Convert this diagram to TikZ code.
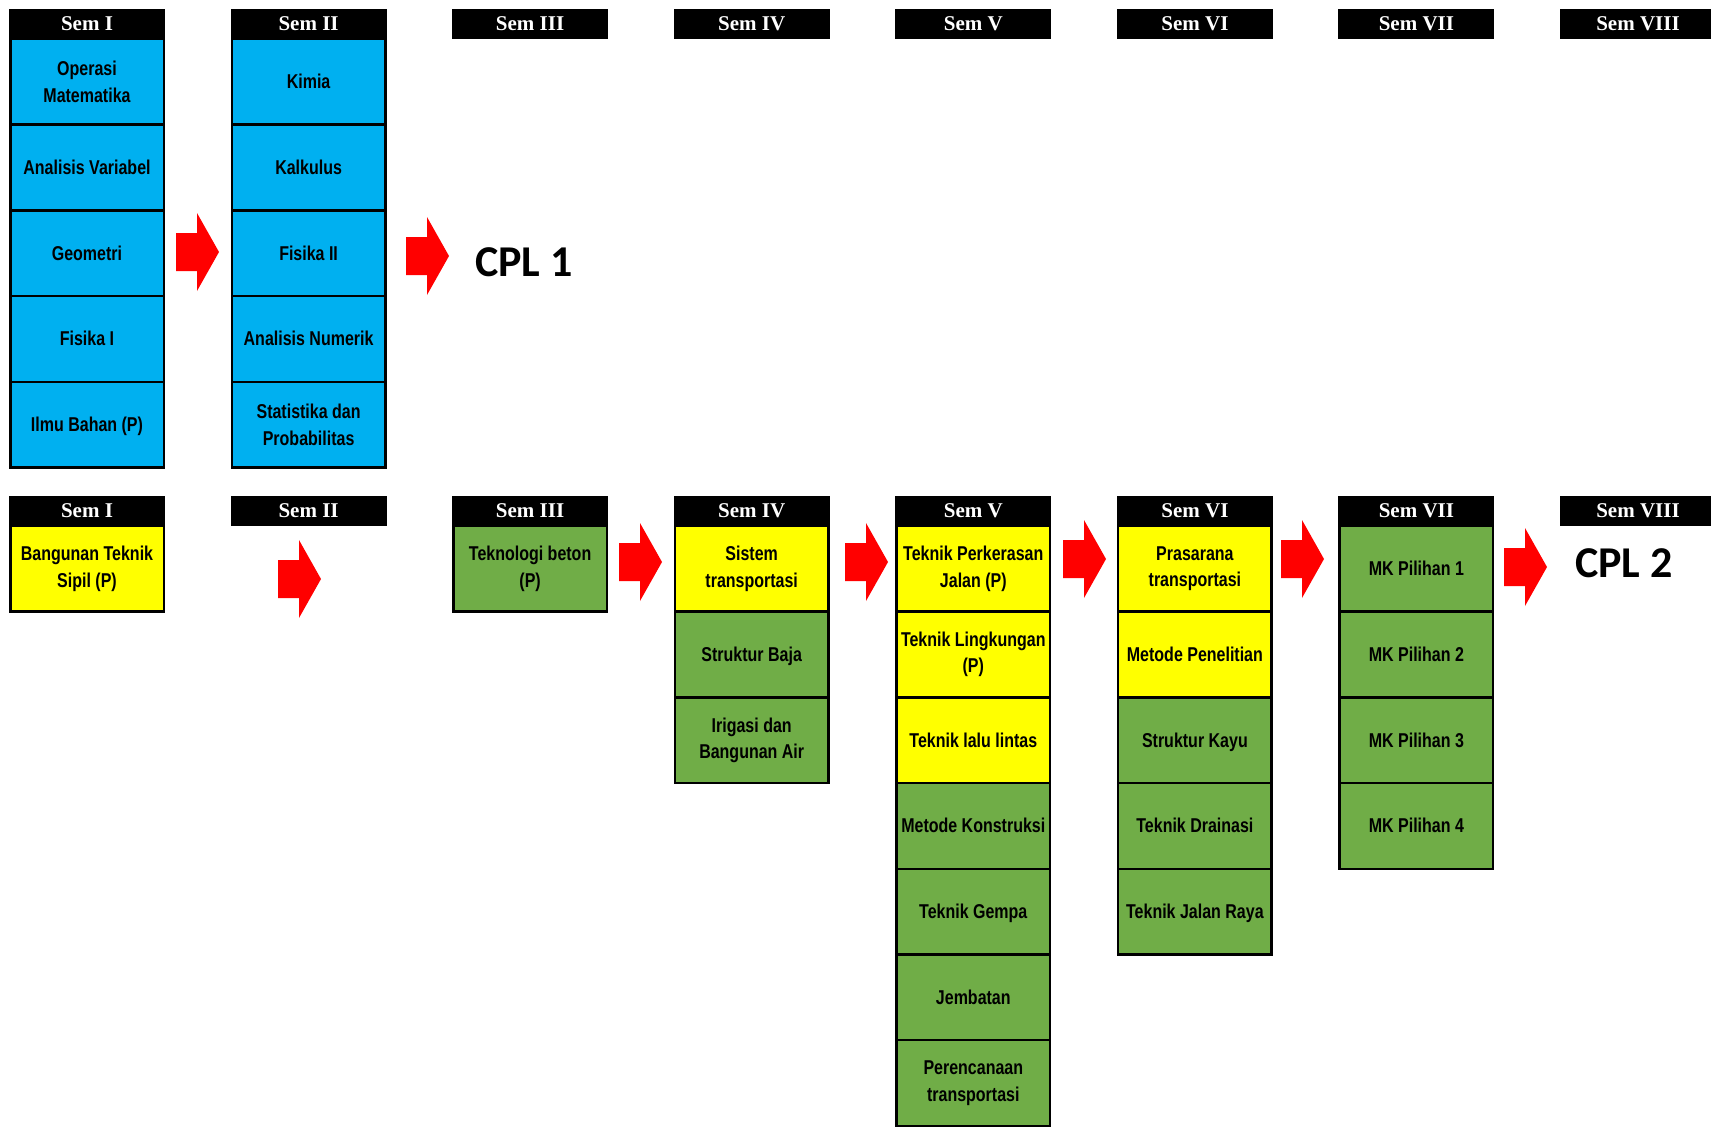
\documentclass[tikz,border=0pt]{standalone}
\usepackage{fontspec}
\newfontfamily\cellfont{Liberation Sans}[FakeStretch=0.8]
\newfontfamily\hdrfont{Liberation Serif}
\newfontfamily\cplfont{Carlito}
\definecolor{cblue}{HTML}{00B0F0}
\definecolor{cyel}{HTML}{FFFF00}
\definecolor{cgreen}{HTML}{70AD47}
\definecolor{cred}{HTML}{FF0000}
\tikzset{
  hdr/.style={fill=black, minimum width=156, minimum height=30, inner sep=0pt,
    text=white, font=\hdrfont\bfseries\fontsize{21}{24}\selectfont},
  cellbase/.style={draw=black, line width=2.5pt, minimum width=153.5, minimum height=85.7,
    inner sep=0pt, align=center, text=black, font=\cellfont\bfseries\fontsize{20}{26.5}\selectfont},
  cb/.style={cellbase, fill=cblue},
  cy/.style={cellbase, fill=cyel},
  cg/.style={cellbase, fill=cgreen},
  one/.style={text height=18.1pt, text depth=4.24pt},
  cpl/.style={inner sep=0pt, anchor=base, font=\cplfont\bfseries\fontsize{44}{50}\selectfont},
  blockarrow/.pic={\fill[cred] (0,20)--(21,20)--(21,0)--(43,39)--(21,78)--(21,58)--(0,58)--cycle;}
}
\begin{document}
\begin{tikzpicture}[x=1pt,y=-1pt]
\useasboundingbox[fill=white] (0,0) rectangle (1711,1127);
% ---------- top row headers ----------
\node[hdr] (t1) at (87,24) {Sem I};
\node[hdr] (t2) at (308.6,24) {Sem II};
\node[hdr] (t3) at (530.1,24) {Sem III};
\node[hdr] (t4) at (751.7,24) {Sem IV};
\node[hdr] (t5) at (973.3,24) {Sem V};
\node[hdr] (t6) at (1194.9,24) {Sem VI};
\node[hdr] (t7) at (1416.4,24) {Sem VII};
\node[hdr] (t8) at (1638,24) {Sem VIII};
% ---------- top row cells ----------
\node[cb] (a1) at (87,81.85) {Operasi\\Matematika};
\node[cb,one] (a2) at (87,167.55) {Analisis Variabel};
\node[cb,one] (a3) at (87,253.25) {Geometri};
\node[cb,one] (a4) at (87,338.95) {Fisika I};
\node[cb,one] (a5) at (87,424.65) {Ilmu Bahan (P)};
\node[cb,one] (b1) at (308.6,81.85) {Kimia};
\node[cb,one] (b2) at (308.6,167.55) {Kalkulus};
\node[cb,one] (b3) at (308.6,253.25) {Fisika II};
\node[cb,one] (b4) at (308.6,338.95) {Analisis Numerik};
\node[cb] (b5) at (308.6,424.65) {Statistika dan\\Probabilitas};
\path (176,213) pic {blockarrow};
\path (406,217) pic {blockarrow};
\node[cpl] (cpl1) at (524,276) {CPL 1};
% ---------- bottom row headers ----------
\node[hdr] (s1) at (87,511) {Sem I};
\node[hdr] (s2) at (308.6,511) {Sem II};
\node[hdr] (s3) at (530.1,511) {Sem III};
\node[hdr] (s4) at (751.7,511) {Sem IV};
\node[hdr] (s5) at (973.3,511) {Sem V};
\node[hdr] (s6) at (1194.9,511) {Sem VI};
\node[hdr] (s7) at (1416.4,511) {Sem VII};
\node[hdr] (s8) at (1638,511) {Sem VIII};
% ---------- bottom row cells ----------
\node[cy] (c1) at (87,568.85) {Bangunan Teknik\\Sipil (P)};
\node[cg] (e1) at (530.1,568.85) {Teknologi beton\\(P)};
\node[cy] (f1) at (751.7,568.85) {Sistem\\transportasi};
\node[cg,one] (f2) at (751.7,654.55) {Struktur Baja};
\node[cg] (f3) at (751.7,740.25) {Irigasi dan\\Bangunan Air};
\node[cy] (g1) at (973.3,568.85) {Teknik Perkerasan\\Jalan (P)};
\node[cy] (g2) at (973.3,654.55) {Teknik Lingkungan\\(P)};
\node[cy,one] (g3) at (973.3,740.25) {Teknik lalu lintas};
\node[cg,one] (g4) at (973.3,825.95) {Metode Konstruksi};
\node[cg,one] (g5) at (973.3,911.65) {Teknik Gempa};
\node[cg,one] (g6) at (973.3,997.35) {Jembatan};
\node[cg] (g7) at (973.3,1083.05) {Perencanaan\\transportasi};
\node[cy] (h1) at (1194.9,568.85) {Prasarana\\transportasi};
\node[cy,one] (h2) at (1194.9,654.55) {Metode Penelitian};
\node[cg,one] (h3) at (1194.9,740.25) {Struktur Kayu};
\node[cg,one] (h4) at (1194.9,825.95) {Teknik Drainasi};
\node[cg,one] (h5) at (1194.9,911.65) {Teknik Jalan Raya};
\node[cg,one] (k1) at (1416.4,568.85) {MK Pilihan 1};
\node[cg,one] (k2) at (1416.4,654.55) {MK Pilihan 2};
\node[cg,one] (k3) at (1416.4,740.25) {MK Pilihan 3};
\node[cg,one] (k4) at (1416.4,825.95) {MK Pilihan 4};
\path (278,540) pic {blockarrow};
\path (619,523) pic {blockarrow};
\path (845,523) pic {blockarrow};
\path (1063,520) pic {blockarrow};
\path (1281,520) pic {blockarrow};
\path (1504,528) pic {blockarrow};
\node[cpl] (cpl2) at (1624,577) {CPL 2};
\end{tikzpicture}
\end{document}
